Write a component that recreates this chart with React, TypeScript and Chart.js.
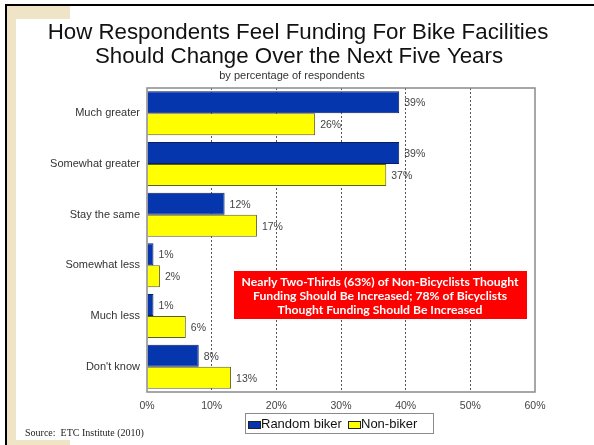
import React, { useEffect, useRef } from "react";
import { Chart, registerables } from "chart.js";

Chart.register(...registerables);

const categories = ["Much greater", "Somewhat greater", "Stay the same", "Somewhat less", "Much less", "Don't know"];
const randomBiker = [39, 39, 12, 1, 1, 8];
const nonBiker = [26, 37, 17, 2, 6, 13];
const seriesNames = ["Random biker", "Non-biker"];
const seriesColors = ["#0536ae", "#ffff00"];
const seriesBorders = ["#0a1e5e", "#5e5e1e"];
const xTickValues = [0, 10, 20, 30, 40, 50, 60];
const titleLines = ["How Respondents Feel Funding For Bike Facilities", "Should Change Over the Next Five Years"];
const subtitleText = "by percentage of respondents";
const noteLines = [
  "Nearly Two-Thirds (63%) of Non-Bicyclists Thought",
  "Funding Should Be Increased; 78% of Bicyclists",
  "Thought Funding Should Be Increased",
];
const sourceText = "Source:  ETC Institute (2010)";

const SANS = "'Liberation Sans', Arial, sans-serif";

const decorPlugin = {
  id: "decor",
  beforeDraw(chart: any) {
    const ctx = chart.ctx;
    ctx.save();
    ctx.fillStyle = "#ffffff";
    ctx.fillRect(0, 0, chart.width, chart.height);
    ctx.fillStyle = "#efe4c6";
    ctx.fillRect(7, 6, 63, 13);
    ctx.fillRect(7, 6, 9, 439);
    ctx.fillRect(16, 440, 54, 5);
    ctx.fillStyle = "#000000";
    ctx.fillRect(5, 4, 589, 2);
    ctx.fillRect(5, 4, 2, 441);
    ctx.restore();
  },
  afterDatasetsDraw(chart: any) {
    const ctx = chart.ctx;
    const a = chart.chartArea;
    ctx.save();
    ctx.strokeStyle = "#8a8a8a";
    ctx.lineWidth = 1.5;
    ctx.strokeRect(a.left, a.top, a.right - a.left, a.bottom - a.top);
    ctx.font = `10.5px ${SANS}`;
    ctx.fillStyle = "#444";
    ctx.textBaseline = "middle";
    ctx.textAlign = "left";
    chart.data.datasets.forEach((ds: any, di: number) => {
      const meta = chart.getDatasetMeta(di);
      meta.data.forEach((el: any, i: number) => {
        ctx.fillText(ds.data[i] + "%", el.x + 5, el.y + 1);
      });
    });
    ctx.restore();
  },
  afterDraw(chart: any) {
    const ctx = chart.ctx;
    ctx.save();
    ctx.fillStyle = "#111";
    ctx.textAlign = "center";
    ctx.textBaseline = "middle";
    ctx.font = `22.3px ${SANS}`;
    ctx.fillText(titleLines[0], 298, 33);
    ctx.fillText(titleLines[1], 299, 57);
    ctx.font = `11px ${SANS}`;
    ctx.fillStyle = "#333";
    ctx.fillText(subtitleText, 292, 76);

    ctx.fillStyle = "#ff0000";
    ctx.fillRect(234, 271, 293, 48);
    ctx.fillStyle = "#ffffff";
    ctx.font = `bold 12.2px Lato, 'DejaVu Sans', sans-serif`;
    noteLines.forEach((t, i) => ctx.fillText(t, 380, 282 + i * 14));

    const lx = 245, ly = 413, lw = 188, lh = 20;
    ctx.strokeStyle = "#8a8a8a";
    ctx.lineWidth = 1;
    ctx.strokeRect(lx + 0.5, ly + 0.5, lw, lh);
    ctx.font = `13px ${SANS}`;
    ctx.textAlign = "left";
    const itemX = [248, 348];
    seriesNames.forEach((name, i) => {
      ctx.fillStyle = seriesColors[i];
      ctx.fillRect(itemX[i], ly + 8, 12, 7);
      ctx.strokeStyle = "#222";
      ctx.strokeRect(itemX[i] + 0.5, ly + 8.5, 12, 7);
      ctx.fillStyle = "#111";
      ctx.fillText(name, itemX[i] + 13, ly + 11.5);
    });

    ctx.font = `10px 'Liberation Serif', serif`;
    ctx.fillStyle = "#222";
    ctx.fillText(sourceText, 25, 433);
    ctx.restore();
  },
};

export default function App() {
  const ref = useRef<HTMLCanvasElement | null>(null);
  useEffect(() => {
    if (!ref.current) return;
    const chart = new Chart(ref.current, {
      type: "bar",
      data: {
        labels: categories,
        datasets: [randomBiker, nonBiker].map((d, i) => ({
          label: seriesNames[i],
          data: d,
          backgroundColor: seriesColors[i],
          borderColor: seriesBorders[i],
          borderWidth: 1,
          categoryPercentage: 0.87,
          barPercentage: 1,
        })),
      },
      options: {
        indexAxis: "y",
        responsive: false,
        animation: false,
        layout: { padding: { top: 88, left: 0, right: 59, bottom: 0 } },
        plugins: {
          legend: { display: false },
          title: { display: false },
          tooltip: { enabled: false },
        },
        scales: {
          x: {
            min: 0,
            max: 60,
            afterBuildTicks: (s: any) => {
              s.ticks = xTickValues.map((v) => ({ value: v }));
            },
            ticks: {
              callback: (v: any) => v + "%",
              font: { family: SANS, size: 10.5 },
              color: "#444",
              padding: 8,
              maxRotation: 0,
            },
            grid: {
              drawTicks: false,
              color: (c: any) =>
                c.tick && (c.tick.value === 0 || c.tick.value === 60) ? "rgba(0,0,0,0)" : "#555",
              lineWidth: 1,
            },
            border: { display: false, dash: [2, 2] },
            afterFit: (s: any) => {
              s.height = 53;
            },
          },
          y: {
            ticks: {
              font: { family: SANS, size: 11 },
              color: "#333",
              padding: 7,
            },
            grid: { display: false, drawTicks: false },
            border: { display: false },
            afterFit: (s: any) => {
              s.width = 147;
            },
          },
        },
      },
      plugins: [decorPlugin],
    } as any);
    return () => chart.destroy();
  }, []);
  return (
    <div style={{ position: "fixed", left: 0, top: 0, width: 594, height: 445 }}>
      <canvas ref={ref} width={594} height={445} style={{ display: "block" }} />
    </div>
  );
}
